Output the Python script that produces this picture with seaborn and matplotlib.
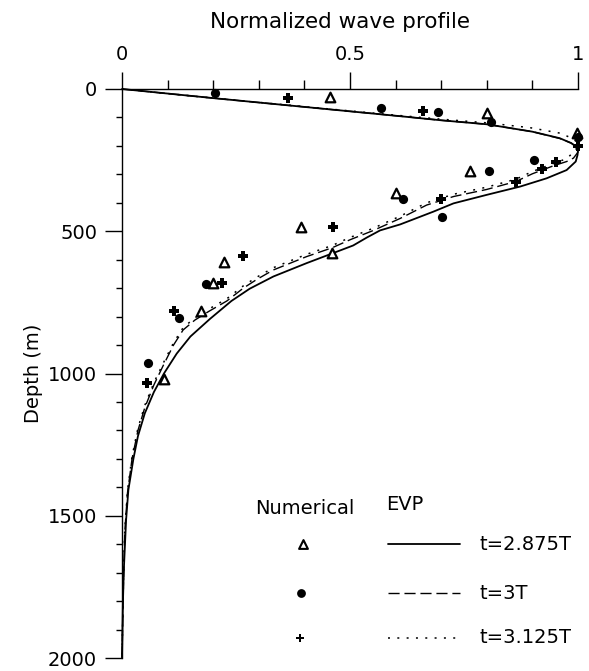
import numpy as np
import pandas as pd
import matplotlib
matplotlib.use("Agg")
import matplotlib.pyplot as plt
import seaborn as sns
from matplotlib.ticker import MultipleLocator, FixedLocator

# ---------------- data ----------------
tri_x = [0.456, 0.800, 0.998, 0.763, 0.600, 0.393, 0.461, 0.224, 0.200, 0.173, 0.092]
tri_d = [29, 85, 153, 287, 367, 484, 577, 607, 683, 782, 1020]

circ_x = [0.204, 0.569, 0.694, 0.809, 1.0, 0.904, 0.804, 0.617, 0.702, 0.184, 0.126, 0.057]
circ_d = [15, 66, 82, 115, 168, 249, 289, 385, 450, 685, 806, 964]

plus_x = [0.363, 0.659, 1.0, 0.952, 0.920, 0.864, 0.700, 0.463, 0.265, 0.219, 0.114, 0.055]
plus_d = [30, 77, 199, 258, 281, 328, 387, 486, 587, 683, 782, 1034]

solid_x = [0, 0.2, 0.4, 0.6, 0.7, 0.8, 0.9, 0.96, 0.985, 0.997, 1.0, 0.999, 0.995,
           0.975, 0.931, 0.873, 0.80, 0.727, 0.683, 0.61, 0.566, 0.537, 0.507, 0.461,
           0.405, 0.332, 0.28, 0.24, 0.193, 0.15, 0.12, 0.092, 0.07, 0.05, 0.035,
           0.025, 0.014, 0.009, 0.004, 0.002, 0.0]
solid_d = [0, 32, 63, 94, 110, 124, 150, 173, 190, 203, 214, 232, 255,
           285, 314, 343, 372, 402, 431, 476, 497, 522, 550, 578,
           612, 659, 702, 745, 808, 870, 930, 1000, 1065, 1140, 1220,
           1300, 1409, 1514, 1690, 1807, 2000]

dashed_x = [0, 0.2, 0.4, 0.6, 0.7, 0.8, 0.9, 0.96, 0.985, 0.997, 1.0, 0.99, 0.975,
            0.946, 0.90, 0.864, 0.80, 0.727, 0.668, 0.61, 0.55, 0.50, 0.461, 0.405,
            0.332, 0.295, 0.266, 0.23, 0.19, 0.16, 0.134, 0.113, 0.091, 0.07, 0.05,
            0.035, 0.022, 0.012, 0.006, 0.003, 0.0]
dashed_d = [0, 32, 63, 94, 110, 124, 150, 174, 190, 205, 222, 243, 255,
            270, 298, 325, 353, 378, 408, 455, 498, 530, 558, 589,
            636, 670, 700, 745, 782, 812, 847, 900, 970, 1040, 1120,
            1200, 1300, 1420, 1560, 1750, 2000]

dotted_x = [0, 0.2, 0.4, 0.6, 0.7, 0.8, 0.895, 0.96, 0.99, 1.0, 0.995, 0.975,
            0.946, 0.90, 0.864, 0.80, 0.727, 0.668, 0.61, 0.55, 0.50, 0.461, 0.405,
            0.332, 0.295, 0.266, 0.23, 0.19, 0.16, 0.134, 0.113, 0.091, 0.07, 0.05,
            0.035, 0.022, 0.012, 0.006, 0.003, 0.0]
dotted_d = [0, 32, 62, 92, 106, 119, 136, 155, 175, 192, 215, 245,
            262, 290, 317, 345, 370, 400, 447, 490, 522, 550, 581,
            628, 662, 692, 737, 774, 804, 839, 892, 962, 1032, 1112,
            1192, 1292, 1412, 1552, 1742, 2000]

x_ticks = [0, 0.5, 1]
x_ticklabels = ["0", "0.5", "1"]
y_ticks = [0, 500, 1000, 1500, 2000]
y_ticklabels = ["0", "500", "1000", "1500", "2000"]

num_title = "Numerical"
evp_title = "EVP"
series_labels = ["t=2.875T", "t=3T", "t=3.125T"]

# ---------------- figure ----------------
sns.set_style("ticks")
plt.rcParams["font.family"] = ["DejaVu Sans"]
for k in ("text.color", "axes.labelcolor", "xtick.color", "ytick.color", "axes.edgecolor"):
    plt.rcParams[k] = "black"
FS = 14

fig = plt.figure(figsize=(5.89, 6.71), dpi=100)
ax = fig.add_axes([122 / 589, 13 / 671, 456 / 589, 569 / 671])

dash_style = (0, (8, 3.5))
dot_style = (0, (1.3, 4.8))

lines = [
    (solid_x, solid_d, "-", 1.3),
    (dashed_x, dashed_d, dash_style, 1.0),
    (dotted_x, dotted_d, dot_style, 1.1),
]
for xs, ds, ls, lw in lines:
    df = pd.DataFrame({"x": xs, "d": ds})
    sns.lineplot(data=df, x="x", y="d", sort=False, estimator=None, ax=ax,
                 color="black", linewidth=lw, linestyle=ls, clip_on=False)

mk_tri = dict(marker="^", s=48, color="white", edgecolor="black", linewidth=1.6)
mk_circ = dict(marker="o", s=44, color="black", edgecolor="black", linewidth=0)
mk_plus = dict(marker="P", s=46, color="black", edgecolor="black", linewidth=0)

sns.scatterplot(x=tri_x, y=tri_d, ax=ax, clip_on=False, zorder=5, **mk_tri)
sns.scatterplot(x=circ_x, y=circ_d, ax=ax, clip_on=False, zorder=5, **mk_circ)
sns.scatterplot(x=plus_x, y=plus_d, ax=ax, clip_on=False, zorder=5, **mk_plus)

ax.set_xlim(0, 1)
ax.set_ylim(2000, 0)

# axes styling
ax.xaxis.set_ticks_position("top")
ax.xaxis.set_label_position("top")
ax.spines["right"].set_visible(False)
ax.spines["bottom"].set_visible(False)
for s in ("top", "left"):
    ax.spines[s].set_linewidth(1.0)
    ax.spines[s].set_color("black")

ax.xaxis.set_major_locator(FixedLocator(x_ticks))
ax.set_xticklabels(x_ticklabels)
ax.xaxis.set_minor_locator(MultipleLocator(0.1))
ax.yaxis.set_major_locator(FixedLocator(y_ticks))
ax.set_yticklabels(y_ticklabels)
ax.yaxis.set_minor_locator(MultipleLocator(100))

ax.tick_params(axis="x", which="major", direction="out", length=12, width=1,
               labelsize=FS, pad=6, colors="black", top=True, bottom=False)
ax.tick_params(axis="x", which="minor", direction="out", length=6.5, width=1,
               top=True, bottom=False, colors="black")
ax.tick_params(axis="y", which="major", direction="out", length=12, width=1,
               labelsize=FS, pad=6, colors="black")
ax.tick_params(axis="y", which="minor", direction="out", length=4.5, width=1,
               colors="black")

ax.set_xlabel("Normalized wave profile", fontsize=15.5, color="black")
ax.set_ylabel("Depth (m)", fontsize=FS, color="black")
ax.xaxis.label.set_va("center")
ax.yaxis.label.set_va("center")
ax.xaxis.set_label_coords(0.478, 1.118)
ax.yaxis.set_label_coords(-0.193, 0.5)

# ---------------- legend (drawn as text + keys) ----------------
T = ax.transAxes
ax.text(0.401, 0.262, num_title, transform=T, ha="center", va="center", fontsize=FS)
ax.text(0.621, 0.270, evp_title, transform=T, ha="center", va="center", fontsize=FS)

row_y = [0.200, 0.114, 0.036]
ax.scatter([0.396], [row_y[0]], transform=T, clip_on=False, zorder=5,
           marker="^", s=40, c="white", edgecolors="black", linewidths=1.5)
ax.scatter([0.393], [row_y[1]], transform=T, clip_on=False, zorder=5,
           marker="o", s=40, c="black", linewidths=0)
ax.scatter([0.391], [row_y[2]], transform=T, clip_on=False, zorder=5,
           marker="P", s=40, c="black", linewidths=0)

for (xs, ds, ls, lw), yy, lab in zip(lines, row_y, series_labels):
    ax.plot([0.583, 0.741], [yy, yy], transform=T, color="black",
            linestyle=ls, linewidth=lw, clip_on=False)
    ax.text(0.783, yy, lab, transform=T, ha="left", va="center", fontsize=FS)

fig.savefig("out.png", dpi=100)
